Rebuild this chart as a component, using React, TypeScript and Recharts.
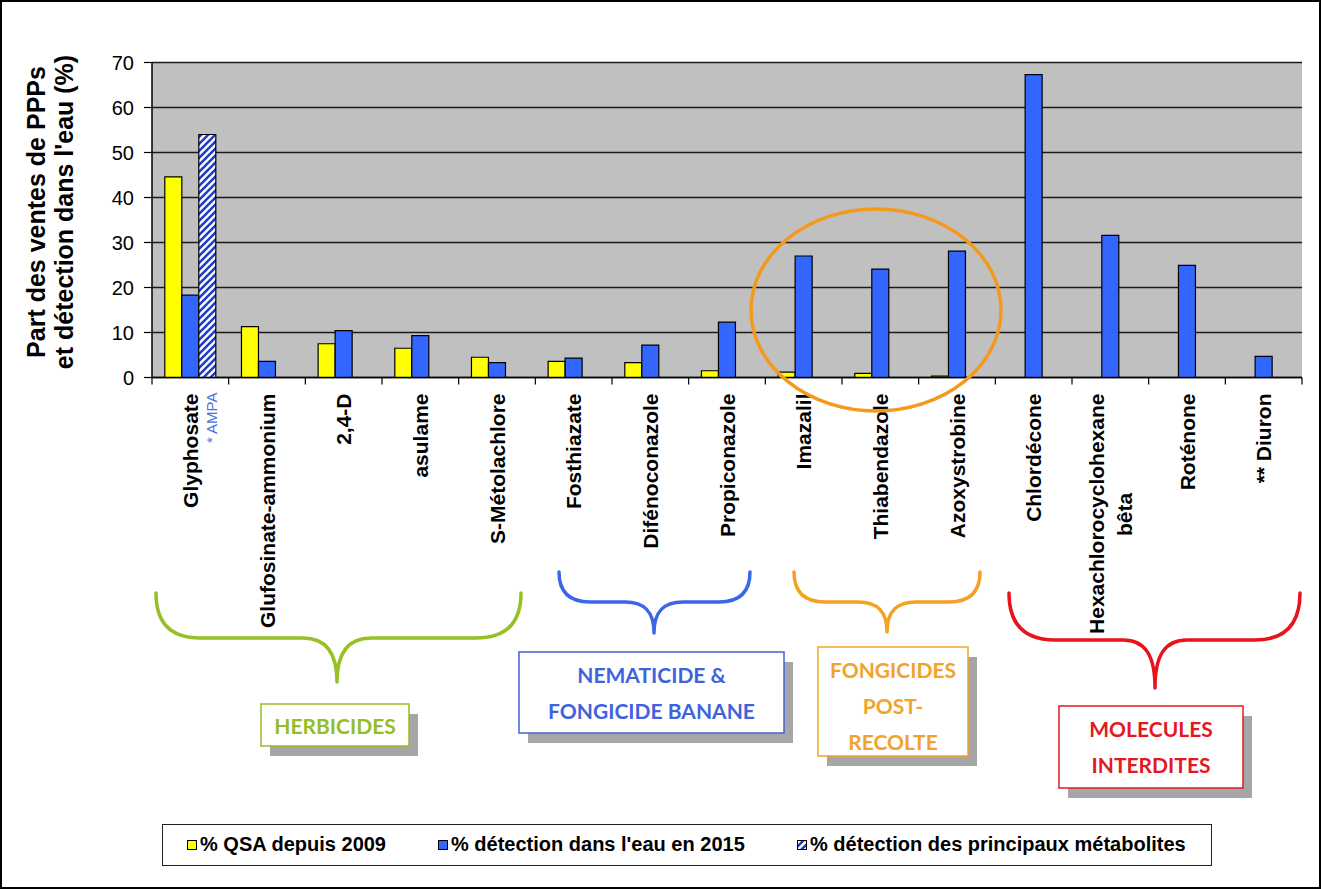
import { BarChart, Bar, XAxis, YAxis, CartesianGrid } from "recharts";

const categories = [
  "Glyphosate",
  "Glufosinate-ammonium",
  "2,4-D",
  "asulame",
  "S-Métolachlore",
  "Fosthiazate",
  "Difénoconazole",
  "Propiconazole",
  "Imazalil",
  "Thiabendazole",
  "Azoxystrobine",
  "Chlordécone",
  "Hexachlorocyclohexane\nbêta",
  "Roténone",
  "** Diuron",
];

// % des ventes (QSA) depuis 2009
const qsaSince2009 = [44.6, 11.3, 7.5, 6.5, 4.5, 3.6, 3.3, 1.5, 1.2, 0.9, 0.3, null, null, null, null];
// % de détection dans l'eau en 2015
const detection2015 = [18.3, 3.6, 10.4, 9.3, 3.3, 4.3, 7.2, 12.3, 27.0, 24.1, 28.1, 67.3, 31.6, 24.9, 4.7];
// % de détection des principaux métabolites (AMPA)
const metabolites = [54.0, null, null, null, null, null, null, null, null, null, null, null, null, null, null];

const seriesNames = [
  "% QSA depuis 2009",
  "% détection dans l'eau en 2015",
  "% détection des principaux métabolites",
];

const yTicks = [0, 10, 20, 30, 40, 50, 60, 70];

const data = categories.map((name, i) => ({
  name,
  qsa: qsaSince2009[i],
  detection: detection2015[i],
  metabolites: metabolites[i],
}));

const W = 1321;
const H = 889;
const PLOT = { left: 152, right: 1302, top: 62.5, bottom: 377.5 };
const BAND = (PLOT.right - PLOT.left) / categories.length;
const ARIAL = '"Liberation Sans", Arial, sans-serif';
const BOX_FONT = 'Lato, "Open Sans", sans-serif';

function CategoryTick(props: any) {
  const { x, y, index, payload } = props;
  const lines = String(payload.value).split("\n");
  const top = y + 16;
  const half = BAND / 2;
  return (
    <g>
      <line x1={x - half} y1={y} x2={x - half} y2={y + 7} stroke="#000" strokeWidth={1.2} />
      {index === categories.length - 1 && (
        <line x1={x + half} y1={y} x2={x + half} y2={y + 7} stroke="#000" strokeWidth={1.2} />
      )}
      {lines.length === 1 ? (
        <text
          x={x}
          y={top}
          transform={`rotate(-90, ${x}, ${top})`}
          textAnchor="end"
          dominantBaseline="central"
          fontFamily={ARIAL}
          fontWeight="bold"
          fontSize={21}
          fill="#000"
        >
          {lines[0]}
        </text>
      ) : (
        <g>
          <text
            x={x - 14}
            y={top}
            transform={`rotate(-90, ${x - 14}, ${top})`}
            textAnchor="end"
            dominantBaseline="central"
            fontFamily={ARIAL}
            fontWeight="bold"
            fontSize={21}
            fill="#000"
          >
            {lines[0]}
          </text>
          <text
            x={x + 14}
            y={top + 121}
            transform={`rotate(-90, ${x + 14}, ${top + 121})`}
            textAnchor="middle"
            dominantBaseline="central"
            fontFamily={ARIAL}
            fontWeight="bold"
            fontSize={21}
            fill="#000"
          >
            {lines[1]}
          </text>
        </g>
      )}
      {index === 0 && (
        <text
          x={x + 21}
          y={top - 1}
          transform={`rotate(-90, ${x + 21}, ${top - 1})`}
          textAnchor="end"
          dominantBaseline="central"
          fontFamily={ARIAL}
          fontSize={15}
          fill="#4a6fe0"
        >
          * AMPA
        </text>
      )}
    </g>
  );
}

function Brace({ d, color, width = 3.5 }: { d: string; color: string; width?: number }) {
  return <path d={d} fill="none" stroke={color} strokeWidth={width} strokeLinecap="round" strokeLinejoin="round" />;
}

function GroupBox({
  x, y, w, h, color, lines, lineYs,
}: { x: number; y: number; w: number; h: number; color: string; lines: string[]; lineYs: number[] }) {
  return (
    <g>
      <rect x={x + 9} y={y + 10} width={w} height={h} fill="#a6a6a6" />
      <rect x={x} y={y} width={w} height={h} fill="#fff" stroke={color} strokeWidth={1.5} />
      {lines.map((t, i) => (
        <text
          key={t}
          x={x + w / 2}
          y={lineYs[i]}
          textAnchor="middle"
          dominantBaseline="central"
          fontFamily={BOX_FONT}
          fontWeight="bold"
          fontSize={21}
          fill={color}
        >
          {t}
        </text>
      ))}
    </g>
  );
}

function HatchDefs({ id }: { id: string }) {
  return (
    <defs>
      <pattern id={id} patternUnits="userSpaceOnUse" width={7} height={7}>
        <rect width={7} height={7} fill="#fff" />
        <path d="M-2,2 L2,-2 M0,7 L7,0 M5,9 L9,5" stroke="#1f3cc8" strokeWidth={2.6} />
      </pattern>
    </defs>
  );
}

function LegendSwatch({ fill }: { fill: string }) {
  return (
    <svg width={10} height={10} style={{ display: "block" }}>
      <HatchDefs id="hatchLegend" />
      <rect x={0.5} y={0.5} width={9} height={9} fill={fill} stroke="#000" strokeWidth={1} />
    </svg>
  );
}

export default function App() {
  const legendItems = [
    { name: seriesNames[0], fill: "#ffff00", sx: 186, tx: 199 },
    { name: seriesNames[1], fill: "#3366ff", sx: 437, tx: 450 },
    { name: seriesNames[2], fill: "url(#hatchLegend)", sx: 796, tx: 809 },
  ];

  return (
    <div
      style={{
        position: "absolute",
        left: 0,
        top: 0,
        width: W,
        height: H,
        boxSizing: "border-box",
        border: "2px solid #000",
        background: "#fff",
        overflow: "hidden",
        fontFamily: ARIAL,
      }}
    >
      {/* brackets and group boxes, behind the chart labels */}
      <svg width={W} height={H} style={{ position: "absolute", left: -2, top: -2 }}>
        <Brace
          color="#97c024"
          d="M156,593 Q156,638 200,638 L303,638 C325,638 337,652 337,682 C337,652 349,638 371,638 L476,638 Q521,638 521,593"
        />
        <Brace
          color="#3c66e8"
          d="M559,572 Q559,602 590,602 L625,602 C645,602 654,612 654,633 C654,612 663,602 683,602 L719,602 Q750,602 750,572"
        />
        <Brace
          color="#f4a124"
          d="M794,572 Q794,602 825,602 L858,602 C878,602 887,612 887,632 C887,612 896,602 916,602 L949,602 Q980,602 980,572"
        />
        <Brace
          color="#e8141c"
          d="M1009,593 Q1009,640 1055,640 L1123,640 C1145,640 1155,655 1155,688 C1155,655 1165,640 1187,640 L1255,640 Q1300,640 1300,593"
        />
        <GroupBox x={261} y={704} w={148} h={42} color="#95bd26" lines={["HERBICIDES"]} lineYs={[725]} />
        <GroupBox
          x={519}
          y={652}
          w={265}
          h={81}
          color="#3f63dc"
          lines={["NEMATICIDE &", "FONGICIDE BANANE"]}
          lineYs={[674, 710]}
        />
        <GroupBox
          x={818}
          y={647}
          w={150}
          h={109}
          color="#f3a22a"
          lines={["FONGICIDES", "POST-", "RECOLTE"]}
          lineYs={[669, 705, 741]}
        />
        <GroupBox
          x={1059}
          y={706}
          w={184}
          h={82}
          color="#e3191f"
          lines={["MOLECULES", "INTERDITES"]}
          lineYs={[728, 764]}
        />
        {/* y axis title */}
        <text
          x={45}
          y={212}
          transform="rotate(-90, 45, 212)"
          textAnchor="middle"
          fontFamily={ARIAL}
          fontWeight="bold"
          fontSize={25}
          fill="#000"
        >
          Part des ventes de PPPs
        </text>
        <text
          x={73}
          y={212}
          transform="rotate(-90, 73, 212)"
          textAnchor="middle"
          fontFamily={ARIAL}
          fontWeight="bold"
          fontSize={25}
          fill="#000"
        >
          et détection dans l'eau (%)
        </text>
      </svg>

      <div style={{ position: "absolute", left: -2, top: -2 }}>
        <BarChart
          width={W}
          height={H}
          data={data}
          margin={{ top: PLOT.top, right: W - PLOT.right, left: PLOT.left - 60, bottom: H - PLOT.bottom - 60 }}
          barCategoryGap="16.7%"
          barGap={0}
        >
          <HatchDefs id="hatchBar" />
          <CartesianGrid vertical={false} stroke="#1a1a1a" strokeWidth={1.3} fill="#c0c0c0" fillOpacity={1} />
          <XAxis
            dataKey="name"
            interval={0}
            height={60}
            tickLine={false}
            tickSize={0}
            tickMargin={0}
            axisLine={{ stroke: "#000", strokeWidth: 1.5 }}
            tick={<CategoryTick />}
          />
          <YAxis
            width={60}
            domain={[0, 70]}
            ticks={yTicks}
            interval={0}
            tickSize={8}
            tickMargin={10}
            axisLine={{ stroke: "#000", strokeWidth: 1.5 }}
            tickLine={{ stroke: "#000", strokeWidth: 1.2 }}
            tick={{ fontFamily: ARIAL, fontSize: 20, fill: "#000" }}
          />
          <Bar dataKey="qsa" name={seriesNames[0]} fill="#ffff00" stroke="#000" strokeWidth={1.2} isAnimationActive={false} />
          <Bar dataKey="detection" name={seriesNames[1]} fill="#3366ff" stroke="#000" strokeWidth={1.2} isAnimationActive={false} />
          <Bar
            dataKey="metabolites"
            name={seriesNames[2]}
            fill="url(#hatchBar)"
            stroke="#000"
            strokeWidth={1.2}
            isAnimationActive={false}
          />
        </BarChart>
      </div>

      {/* post-harvest fungicides highlight */}
      <svg width={W} height={H} style={{ position: "absolute", left: -2, top: -2, pointerEvents: "none" }}>
        <ellipse cx={876} cy={310} rx={125} ry={101} fill="none" stroke="#f39a1e" strokeWidth={3.5} />
      </svg>

      {/* legend */}
      <div
        style={{
          position: "absolute",
          left: 160,
          top: 822,
          width: 1050,
          height: 42,
          boxSizing: "border-box",
          border: "1.5px solid #222",
          background: "#fff",
        }}
      >
        {legendItems.map((it) => (
          <div key={it.name}>
            <div style={{ position: "absolute", left: it.sx - 162, top: 15 }}>
              <LegendSwatch fill={it.fill} />
            </div>
            <div
              style={{
                position: "absolute",
                left: it.tx - 162,
                top: 7,
                fontFamily: ARIAL,
                fontWeight: "bold",
                fontSize: 20,
                lineHeight: "24px",
                whiteSpace: "nowrap",
                color: "#000",
              }}
            >
              {it.name}
            </div>
          </div>
        ))}
      </div>
    </div>
  );
}
